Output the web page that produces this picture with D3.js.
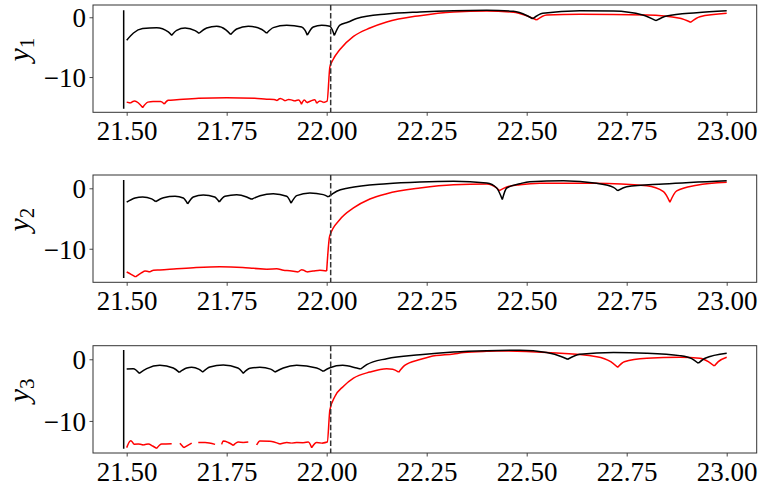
<!DOCTYPE html>
<html>
<head>
<meta charset="utf-8">
<script src="https://cdn.jsdelivr.net/npm/d3@7"></script>
<style>
  html, body { margin: 0; padding: 0; background: #fff; }
  svg { display: block; }
</style>
</head>
<body>
<svg id="chart" width="760" height="488"></svg>
<script>
// ---- data -------------------------------------------------------------
const xTicks = [21.5, 21.75, 22.0, 22.25, 22.5, 22.75, 23.0];
const yTicks = [0, -10];
const yLabels = ["1", "2", "3"];
const xDomain = [21.4158, 23.075];
const yDomains = [[-15.9, 2.05], [-15.55, 2.2], [-15.2, 2.2]];
const markerX = 21.4925;            // solid vertical marker
const thresholdX = 22.01;           // dashed vertical line
const markerSpans = [[-15.3, 1.17], [-14.85, 1.37], [-14.5, 1.5]];

const y1Black = [
  [21.500, -3.85], [21.517, -2.63], [21.540, -1.90], [21.575, -1.74], [21.604, -2.45],
  [21.6125, -3.0], [21.625, -2.18], [21.646, -1.80], [21.671, -2.25], [21.681, -2.68],
  [21.700, -1.80], [21.725, -1.50], [21.748, -2.10], [21.760, -2.90], [21.775, -1.96],
  [21.804, -1.51], [21.838, -2.05], [21.850, -2.68], [21.8665, -1.74], [21.900, -1.34],
  [21.9375, -1.62], [21.946, -2.2], [21.9515, -3.0], [21.9665, -1.62], [21.9875, -1.34],
  [22.008, -1.5], [22.014, -2.1], [22.019, -3.05], [22.033, -1.3], [22.054, -0.8],
  [22.075, -0.2], [22.150, 0.55], [22.233, 0.89], [22.317, 1.10], [22.400, 1.17],
  [22.467, 1.0], [22.500, 0.3], [22.515, -0.25], [22.540, 0.67], [22.633, 1.10],
  [22.717, 1.05], [22.790, 0.38], [22.823, -0.57], [22.850, 0.22], [22.925, 0.77],
  [23.000, 1.10]
];
const y1Red = [
  [21.500, -14.2], [21.509, -14.35], [21.520, -14.0], [21.540, -15.1], [21.553, -14.2],
  [21.566, -14.1], [21.585, -14.1], [21.594, -14.5], [21.604, -13.9], [21.625, -13.8],
  [21.680, -13.55], [21.750, -13.45], [21.820, -13.55], [21.850, -13.7], [21.868, -13.75],
  [21.876, -13.95], [21.884, -13.6], [21.896, -14.0], [21.905, -13.75], [21.920, -14.0],
  [21.930, -13.85], [21.937, -14.55], [21.944, -13.85], [21.950, -14.3], [21.960, -14.0],
  [21.970, -13.8], [21.975, -14.4], [21.983, -14.0], [21.992, -14.25], [22.001, -14.05],
  [22.008, -8.3], [22.015, -7.2], [22.033, -5.4], [22.067, -3.2], [22.108, -1.8],
  [22.150, -0.79], [22.233, 0.27], [22.317, 0.89], [22.400, 1.05], [22.467, 0.85],
  [22.500, 0.25], [22.525, -0.45], [22.550, 0.38], [22.633, 0.5], [22.800, 0.38],
  [22.883, -0.17], [22.910, -0.84], [22.933, 0.1], [23.000, 0.67]
];

const y2Black = [
  [21.500, -2.3], [21.521, -1.6], [21.540, -1.43], [21.5625, -1.76], [21.5725, -2.2],
  [21.592, -1.55], [21.621, -1.32], [21.6415, -1.6], [21.6525, -2.59], [21.6665, -1.43],
  [21.6915, -1.1], [21.720, -1.43], [21.7315, -2.26], [21.7458, -1.32], [21.775, -1.05],
  [21.800, -1.43], [21.8125, -1.81], [21.8333, -1.22], [21.8665, -0.89], [21.900, -1.32],
  [21.911, -2.47], [21.925, -1.22], [21.958, -0.77], [21.9915, -1.05], [22.004, -1.43],
  [22.025, -0.49], [22.054, 0.05], [22.150, 0.76], [22.233, 1.04], [22.317, 1.15],
  [22.400, 0.87], [22.425, 0.05], [22.439, -1.85], [22.450, 0.05], [22.483, 0.76],
  [22.508, 1.09], [22.592, 1.25], [22.675, 0.82], [22.717, 0.16], [22.7275, -0.4],
  [22.750, 0.27], [22.842, 0.71], [23.000, 1.25]
];
const y2Red = [
  [21.500, -13.84], [21.511, -14.23], [21.522, -14.66], [21.5375, -13.95], [21.546, -13.67],
  [21.558, -13.84], [21.567, -13.55], [21.583, -13.5], [21.625, -13.3], [21.667, -13.13],
  [21.733, -12.97], [21.790, -13.1], [21.817, -13.24], [21.850, -13.4], [21.875, -13.3],
  [21.892, -13.55], [21.908, -13.62], [21.929, -13.84], [21.9375, -13.46], [21.950, -13.84],
  [21.966, -13.7], [21.983, -13.55], [22.000, -13.67], [22.0075, -7.9], [22.033, -5.17],
  [22.067, -3.25], [22.108, -1.76], [22.150, -0.89], [22.233, 0.05], [22.317, 0.6],
  [22.400, 0.71], [22.425, 0.05], [22.4315, -0.4], [22.450, 0.21], [22.483, 0.6],
  [22.533, 0.85], [22.667, 0.82], [22.800, 0.43], [22.842, -0.56], [22.858, -2.3],
  [22.875, -0.44], [22.925, 0.49], [23.000, 0.99]
];

const y3Black = [
  [21.500, -1.58], [21.5165, -1.53], [21.5315, -2.28], [21.550, -1.53], [21.583, -0.98],
  [21.6165, -1.42], [21.6315, -2.12], [21.650, -1.42], [21.6625, -1.3], [21.680, -1.6],
  [21.690, -2.07], [21.708, -1.25], [21.7415, -0.93], [21.778, -1.42], [21.7915, -2.28],
  [21.808, -1.47], [21.833, -1.3], [21.860, -1.6], [21.871, -2.07], [21.8915, -1.42],
  [21.925, -0.98], [21.975, -1.42], [21.9915, -1.95], [22.008, -1.37], [22.040, -0.98],
  [22.075, -1.42], [22.085, -1.58], [22.100, -0.88], [22.150, 0.10], [22.233, 0.75],
  [22.317, 1.19], [22.400, 1.40], [22.483, 1.47], [22.550, 1.08], [22.5875, 0.42],
  [22.6025, 0.0], [22.633, 0.81], [22.717, 1.08], [22.800, 0.98], [22.883, 0.59],
  [22.9125, 0.1], [22.929, -0.65], [22.946, 0.16], [23.000, 0.98]
];
// null entries are missing samples (gaps in the line)
const y3Red = [
  [21.500, -14.33], [21.510, -13.2], [21.518, -13.8], [21.529, -13.75], [21.5415, -13.9],
  [21.554, -13.75], [21.565, -14.07], [21.575, -14.45], [21.5875, -13.75], [21.6125, -13.7],
  null,
  [21.633, -13.6], [21.643, -14.33], [21.6625, -13.6],
  null,
  [21.679, -13.5], [21.696, -13.5], [21.721, -13.8],
  null,
  [21.7375, -13.8], [21.7415, -13.26], [21.754, -13.5], [21.7665, -13.96], [21.779, -13.42],
  [21.7915, -13.5], [21.804, -13.42],
  null,
  [21.825, -13.9], [21.833, -13.26], [21.858, -13.3], [21.883, -13.75], [21.900, -13.5],
  [21.9125, -13.6], [21.925, -13.5], [21.9415, -13.55], [21.954, -13.42], [21.9625, -14.33],
  [21.975, -13.5], [21.9875, -13.6], [22.0015, -13.42], [22.008, -8.2], [22.0205, -6.03],
  [22.0415, -4.4], [22.067, -3.05], [22.108, -2.07], [22.150, -1.53], [22.165, -1.6],
  [22.180, -2.1], [22.195, -1.0], [22.233, -0.05], [22.258, 0.42], [22.317, 0.86],
  [22.342, 1.08], [22.400, 1.30], [22.425, 1.35], [22.550, 1.08], [22.675, 0.42],
  [22.710, -0.39], [22.7275, -1.3], [22.744, -0.39], [22.800, 0.16], [22.883, 0.33],
  [22.933, 0.16], [22.954, -0.39], [22.969, -1.09], [22.979, -0.39], [23.000, 0.33]
];

const panels = [
  { black: y1Black, red: y1Red },
  { black: y2Black, red: y2Red },
  { black: y3Black, red: y3Red }
];

// ---- layout -----------------------------------------------------------
const W = 760, H = 488;
const plotLeft = 93, plotRight = 756.7;
const panelTops = [5, 175, 345.7];
const panelH = 107.3;
const tickFont = "'Liberation Serif', 'Times New Roman', serif";

const svg = d3.select("#chart");
svg.append("rect").attr("width", W).attr("height", H).attr("fill", "#fff");

const x = d3.scaleLinear().domain(xDomain).range([plotLeft, plotRight]);

// split a polyline at missing samples and at sharp minima (cusps),
// so each smooth piece is drawn with its own monotone curve
function pieces(pts) {
  const out = [];
  let cur = [];
  for (let i = 0; i < pts.length; i++) {
    const p = pts[i];
    if (p == null) { if (cur.length > 1) out.push(cur); cur = []; continue; }
    cur.push(p);
    const a = pts[i - 1], b = pts[i + 1];
    if (a && b && p[1] < a[1] && p[1] < b[1]) { out.push(cur); cur = [p]; }
  }
  if (cur.length > 1) out.push(cur);
  return out;
}

panels.forEach((pd, i) => {
  const top = panelTops[i], bottom = top + panelH;
  const y = d3.scaleLinear().domain(yDomains[i]).range([bottom, top]);
  const g = svg.append("g");

  const clipId = "clip" + i;
  g.append("clipPath").attr("id", clipId)
    .append("rect").attr("x", plotLeft).attr("y", top)
    .attr("width", plotRight - plotLeft).attr("height", panelH);

  const plot = g.append("g").attr("clip-path", `url(#${clipId})`);

  const line = d3.line().x(d => x(d[0])).y(d => y(d[1])).curve(d3.curveMonotoneX);
  const pathOf = pts => pieces(pts).map(s => line(s)).join("");

  // solid vertical marker
  plot.append("line")
    .attr("x1", x(markerX)).attr("x2", x(markerX))
    .attr("y1", y(markerSpans[i][0])).attr("y2", y(markerSpans[i][1]))
    .attr("stroke", "#000").attr("stroke-width", 1.5);

  plot.append("path").attr("d", pathOf(pd.red))
    .attr("fill", "none").attr("stroke", "#ff0000").attr("stroke-width", 1.5)
    .attr("stroke-linejoin", "round");
  plot.append("path").attr("d", pathOf(pd.black))
    .attr("fill", "none").attr("stroke", "#000").attr("stroke-width", 1.5)
    .attr("stroke-linejoin", "round");

  // dashed vertical line across the full axis height
  plot.append("line")
    .attr("x1", x(thresholdX)).attr("x2", x(thresholdX))
    .attr("y1", top).attr("y2", bottom)
    .attr("stroke", "#333").attr("stroke-width", 1.5)
    .attr("stroke-dasharray", "5.5,2.4");

  // frame
  g.append("rect")
    .attr("x", plotLeft).attr("y", top)
    .attr("width", plotRight - plotLeft).attr("height", panelH)
    .attr("fill", "none").attr("stroke", "#333").attr("stroke-width", 1);

  // bottom axis
  const xAxis = d3.axisBottom(x).tickValues(xTicks)
    .tickSize(3.5).tickPadding(3.5).tickFormat(d3.format(".2f"));
  const gx = g.append("g").attr("transform", `translate(0,${bottom})`).call(xAxis);
  gx.select(".domain").remove();
  gx.selectAll(".tick line").attr("stroke", "#333").attr("stroke-width", 0.9);
  gx.selectAll(".tick text")
    .attr("font-family", tickFont).attr("font-size", 27).attr("fill", "#000")
    .attr("dy", null).attr("y", 27.7);

  // left axis
  const yAxis = d3.axisLeft(y).tickValues(yTicks)
    .tickSize(3.5).tickPadding(3.5).tickFormat(d => d < 0 ? "\u2212" + Math.abs(d) : String(d));
  const gy = g.append("g").attr("transform", `translate(${plotLeft},0)`).call(yAxis);
  gy.select(".domain").remove();
  gy.selectAll(".tick line").attr("stroke", "#333").attr("stroke-width", 0.9);
  gy.selectAll(".tick text")
    .attr("font-family", tickFont).attr("font-size", 27).attr("fill", "#000")
    .attr("dy", null).attr("y", 9.3);

  // y label: italic y with subscript index
  const cy = (top + bottom) / 2 - 9;
  const lab = g.append("text")
    .attr("transform", `translate(29,${cy}) rotate(-90)`)
    .attr("text-anchor", "middle")
    .attr("font-family", tickFont).attr("font-size", 30).attr("fill", "#000");
  lab.append("tspan").attr("font-style", "italic").text("y");
  lab.append("tspan").attr("font-size", 21).attr("dy", 5).text(yLabels[i]);
});
</script>
</body>
</html>
